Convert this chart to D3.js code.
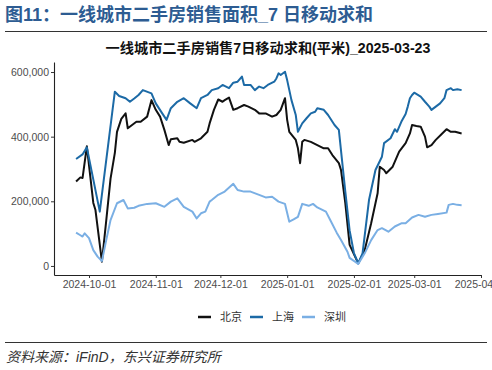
<!DOCTYPE html>
<html>
<head>
<meta charset="utf-8">
<script src="https://cdn.jsdelivr.net/npm/d3@7"></script>
<style>
    body { margin: 0; background: #fff; }
    svg { display: block; font-family: "Liberation Sans", Arial, "Noto Sans CJK SC", sans-serif; }
</style>
</head>
<body>
<svg id="chart" width="492" height="370"></svg>
<script>
'use strict';

/* global d3 */

var seriesNames = ["北京", "上海", "深圳"];

var bjDates = ["2024-09-25", "2024-09-27", "2024-09-28", "2024-09-30", "2024-10-03", "2024-10-04", "2024-10-07",
    "2024-10-09", "2024-10-11", "2024-10-13", "2024-10-14", "2024-10-16", "2024-10-18", "2024-10-19", "2024-10-21",
    "2024-10-23", "2024-10-25", "2024-10-28", "2024-10-30", "2024-11-01", "2024-11-03", "2024-11-05", "2024-11-07",
    "2024-11-08", "2024-11-11", "2024-11-12", "2024-11-14", "2024-11-18", "2024-11-19", "2024-11-22", "2024-11-25",
    "2024-11-26", "2024-11-28", "2024-11-30", "2024-12-02", "2024-12-03", "2024-12-05", "2024-12-07", "2024-12-09",
    "2024-12-12", "2024-12-14", "2024-12-17", "2024-12-19", "2024-12-22", "2024-12-25", "2024-12-27", "2024-12-29",
    "2024-12-31", "2025-01-01", "2025-01-02", "2025-01-05", "2025-01-06", "2025-01-07", "2025-01-08", "2025-01-09",
    "2025-01-12", "2025-01-15", "2025-01-18", "2025-01-20", "2025-01-22", "2025-01-25", "2025-01-26", "2025-01-28",
    "2025-01-30", "2025-02-03", "2025-02-06", "2025-02-09", "2025-02-12", "2025-02-13", "2025-02-15", "2025-02-16",
    "2025-02-19", "2025-02-22", "2025-02-25", "2025-02-27", "2025-02-28", "2025-03-02", "2025-03-04", "2025-03-06",
    "2025-03-07", "2025-03-09", "2025-03-11", "2025-03-14", "2025-03-16", "2025-03-18", "2025-03-20", "2025-03-23"];
var bjValues = [261000, 274000, 272000, 370000, 195000, 173000, 13000,
    140000, 270000, 350000, 415000, 455000, 472000, 426000, 436000,
    446000, 446000, 462000, 513000, 483000, 462000, 421000, 374000,
    392000, 395000, 384000, 381000, 390000, 384000, 395000, 415000,
    441000, 483000, 515000, 508000, 513000, 521000, 483000, 488000,
    498000, 493000, 483000, 472000, 472000, 462000, 467000, 483000,
    519000, 452000, 415000, 390000, 364000, 318000, 384000, 390000,
    384000, 374000, 364000, 364000, 343000, 318000, 297000, 194000,
    65000, 8000, 49000, 132000, 225000, 307000, 297000, 287000,
    307000, 354000, 380000, 410000, 436000, 433000, 431000, 400000,
    367000, 374000, 390000, 410000, 423000, 415000, 415000, 410000];

var shDates = ["2024-09-25", "2024-09-28", "2024-09-30", "2024-10-06", "2024-10-13", "2024-10-15", "2024-10-18",
    "2024-10-20", "2024-10-22", "2024-10-24", "2024-10-26", "2024-10-30", "2024-11-01", "2024-11-04", "2024-11-06",
    "2024-11-08", "2024-11-11", "2024-11-14", "2024-11-17", "2024-11-20", "2024-11-22", "2024-11-25", "2024-11-27",
    "2024-11-30", "2024-12-02", "2024-12-05", "2024-12-07", "2024-12-09", "2024-12-11", "2024-12-12", "2024-12-15",
    "2024-12-17", "2024-12-19", "2024-12-21", "2024-12-23", "2024-12-26", "2024-12-27", "2024-12-28", "2024-12-29",
    "2024-12-31", "2025-01-01", "2025-01-02", "2025-01-03", "2025-01-05", "2025-01-06", "2025-01-08", "2025-01-10",
    "2025-01-12", "2025-01-14", "2025-01-15", "2025-01-18", "2025-01-20", "2025-01-23", "2025-01-25", "2025-01-28",
    "2025-01-30", "2025-02-01", "2025-02-03", "2025-02-05", "2025-02-08", "2025-02-11", "2025-02-14", "2025-02-15",
    "2025-02-18", "2025-02-20", "2025-02-21", "2025-02-23", "2025-02-25", "2025-02-26", "2025-02-27", "2025-02-28",
    "2025-03-01", "2025-03-04", "2025-03-06", "2025-03-08", "2025-03-09", "2025-03-11", "2025-03-13", "2025-03-15",
    "2025-03-16", "2025-03-18", "2025-03-19", "2025-03-21", "2025-03-23"];
var shValues = [331000, 345000, 367000, 168000, 539000, 526000, 519000,
    508000, 518000, 529000, 544000, 534000, 503000, 472000, 452000,
    488000, 508000, 519000, 503000, 488000, 519000, 529000, 544000,
    550000, 560000, 550000, 567000, 570000, 586000, 560000, 560000,
    544000, 555000, 550000, 560000, 570000, 580000, 596000, 591000,
    601000, 575000, 544000, 513000, 467000, 415000, 441000, 457000,
    472000, 477000, 488000, 483000, 467000, 436000, 421000, 230000,
    110000, 40000, 8000, 39000, 204000, 297000, 338000, 380000,
    395000, 423000, 415000, 446000, 470000, 493000, 519000, 529000,
    536000, 524000, 508000, 493000, 483000, 493000, 503000, 519000,
    544000, 550000, 544000, 547000, 544000];

var szDates = ["2024-09-25", "2024-09-27", "2024-09-28", "2024-09-29", "2024-10-01", "2024-10-03", "2024-10-05",
    "2024-10-07", "2024-10-09", "2024-10-11", "2024-10-14", "2024-10-17", "2024-10-19", "2024-10-22", "2024-10-24",
    "2024-10-28", "2024-11-01", "2024-11-05", "2024-11-08", "2024-11-11", "2024-11-14", "2024-11-18", "2024-11-20",
    "2024-11-22", "2024-11-24", "2024-11-26", "2024-11-27", "2024-11-30", "2024-12-03", "2024-12-07", "2024-12-09",
    "2024-12-12", "2024-12-15", "2024-12-19", "2024-12-22", "2024-12-25", "2024-12-28", "2024-12-31", "2025-01-02",
    "2025-01-04", "2025-01-06", "2025-01-08", "2025-01-11", "2025-01-13", "2025-01-15", "2025-01-19", "2025-01-21",
    "2025-01-24", "2025-01-26", "2025-01-29", "2025-01-30", "2025-02-03", "2025-02-06", "2025-02-09", "2025-02-12",
    "2025-02-14", "2025-02-17", "2025-02-20", "2025-02-23", "2025-02-25", "2025-02-28", "2025-03-03", "2025-03-06",
    "2025-03-09", "2025-03-12", "2025-03-16", "2025-03-17", "2025-03-19", "2025-03-21", "2025-03-23"];
var szValues = [103000, 95000, 91000, 101000, 86000, 49000, 29000,
    15000, 80000, 142000, 194000, 204000, 178000, 180000, 186000,
    192000, 194000, 183000, 199000, 209000, 183000, 168000, 147000,
    163000, 168000, 199000, 204000, 220000, 230000, 254000, 235000,
    230000, 230000, 220000, 212000, 214000, 199000, 192000, 137000,
    144000, 152000, 192000, 186000, 192000, 181000, 168000, 142000,
    103000, 80000, 44000, 25000, 6000, 39000, 80000, 111000,
    117000, 106000, 122000, 132000, 132000, 150000, 158000, 152000,
    158000, 161000, 165000, 189000, 192000, 189000, 188000];

var xTickLabels = ["2024-10-01", "2024-11-01", "2024-12-01", "2025-01-01", "2025-02-01", "2025-03-01", "2025-04-01"];
var yTickValues = [0, 200000, 400000, 600000];

var mainTitle = "图11：一线城市二手房销售面积_7 日移动求和";
var chartTitle = "一线城市二手房销售7日移动求和(平米)_2025-03-23";
var sourceText = "资料来源：iFinD，东兴证券研究所";

(function () {
    var svg = d3.select("#chart");
    var parse = d3.utcParse("%Y-%m-%d");
    var colors = ["#111111", "#1c6aa6", "#7aafe4"];

    function toPoints(dates, values) {
        return dates.map(function (d, i) {
            return {date: parse(d), value: values[i]};
        });
    }

    var series = [
        toPoints(bjDates, bjValues),
        toPoints(shDates, shValues),
        toPoints(szDates, szValues)
    ];

    var plotLeft = 54, plotRight = 481, plotTop = 62, plotBottom = 275;

    // calibrate the time scale on the first and last tick, then extend to the axis start
    var x = d3.scaleUtc()
        .domain([parse(xTickLabels[0]), parse(xTickLabels[xTickLabels.length - 1])])
        .range([89, plotRight]);
    x.domain([x.invert(plotLeft), x.domain()[1]]).range([plotLeft, plotRight]);

    var y = d3.scaleLinear()
        .domain([-28000, 631000])
        .range([plotBottom, plotTop]);

    // header
    svg.append("text")
        .attr("x", 5)
        .attr("y", 21)
        .style("font-size", "18px")
        .style("font-weight", "bold")
        .style("fill", "#2d5c92")
        .text(mainTitle);

    svg.append("line")
        .attr("x1", 5).attr("x2", 487)
        .attr("y1", 31.5).attr("y2", 31.5)
        .style("stroke", "#333")
        .style("stroke-width", 1.2);

    svg.append("text")
        .attr("x", 268)
        .attr("y", 53)
        .attr("text-anchor", "middle")
        .style("font-size", "14.2px")
        .style("font-weight", "bold")
        .style("fill", "#111")
        .text(chartTitle);

    // axes
    var xAxis = d3.axisBottom(x)
        .tickValues(xTickLabels.map(parse))
        .tickFormat(d3.utcFormat("%Y-%m-%d"))
        .tickSize(3)
        .tickSizeOuter(0);

    var yAxis = d3.axisLeft(y)
        .tickValues(yTickValues)
        .tickFormat(d3.format(","))
        .tickSize(3)
        .tickSizeOuter(0);

    var gx = svg.append("g")
        .attr("transform", "translate(0," + plotBottom + ")")
        .call(xAxis);
    gx.select(".domain").style("stroke", "#222").style("stroke-width", 1.1);
    gx.selectAll(".tick line").style("stroke", "#333");
    gx.selectAll(".tick text")
        .attr("dy", "0")
        .attr("y", 13)
        .style("font-size", "10.5px")
        .style("font-family", "Liberation Sans, Arial, sans-serif")
        .style("fill", "#4d4d4d");

    var gy = svg.append("g")
        .attr("transform", "translate(" + plotLeft + ",0)")
        .call(yAxis);
    gy.select(".domain").style("stroke", "#222").style("stroke-width", 1.1);
    gy.selectAll(".tick line").style("stroke", "#333");
    gy.selectAll(".tick text")
        .attr("x", -5)
        .style("font-size", "10.5px")
        .style("font-family", "Liberation Sans, Arial, sans-serif")
        .style("fill", "#4d4d4d");

    // lines
    var line = d3.line()
        .x(function (d) { return x(d.date); })
        .y(function (d) { return y(d.value); });

    svg.append("g")
        .selectAll("path.series")
        .data(series)
        .enter()
        .append("path")
        .attr("class", "series")
        .attr("d", line)
        .style("fill", "none")
        .style("stroke", function (d, i) { return colors[i]; })
        .style("stroke-width", 2)
        .style("stroke-linejoin", "round");

    // legend
    var legendX = [198, 250, 302];
    var legend = svg.append("g").attr("class", "legend");
    seriesNames.forEach(function (name, i) {
        legend.append("line")
            .attr("x1", legendX[i]).attr("x2", legendX[i] + 13)
            .attr("y1", 317).attr("y2", 317)
            .style("stroke", colors[i])
            .style("stroke-width", 2.5);
        legend.append("text")
            .attr("x", legendX[i] + 22)
            .attr("y", 321)
            .style("font-size", "11px")
            .style("fill", "#333")
            .text(name);
    });

    // footer
    svg.append("line")
        .attr("x1", 5).attr("x2", 487)
        .attr("y1", 342.5).attr("y2", 342.5)
        .style("stroke", "#333")
        .style("stroke-width", 1.2);

    svg.append("text")
        .attr("x", 6)
        .attr("y", 362)
        .style("font-size", "14px")
        .style("font-style", "italic")
        .style("fill", "#333")
        .text(sourceText);
})();
</script>
</body>
</html>
